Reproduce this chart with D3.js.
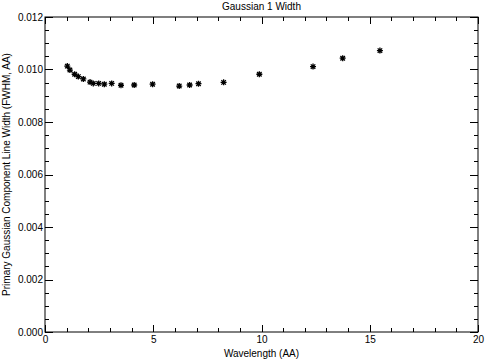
<!DOCTYPE html>
<html><head><meta charset="utf-8">
<script src="https://cdn.jsdelivr.net/npm/d3@7"></script>
<style>body{margin:0;background:#fff}svg{display:block}text{font-family:"Liberation Sans",Arial,sans-serif;font-size:10px;fill:#000}</style>
</head><body>
<script>
const title = "Gaussian 1 Width";
const xLabel = "Wavelength (AA)";
const yLabel = "Primary Gaussian Component Line Width (FWHM, AA)";
const wavelength = [1.03,1.15,1.37,1.54,1.77,2.08,2.23,2.48,2.74,3.08,3.51,4.12,4.97,6.20,6.68,7.09,8.25,9.90,12.38,13.75,15.47];
const width = [0.01013,0.00998,0.00982,0.00973,0.00964,0.00952,0.00947,0.00947,0.00944,0.00947,0.00940,0.00941,0.00944,0.00937,0.00941,0.00946,0.00951,0.00982,0.01011,0.01043,0.01072];
const xTicks = [0,5,10,15,20];
const yTicks = [0,0.002,0.004,0.006,0.008,0.010,0.012];

const W=486,H=360, L=45,R=478,T=17,B=332;
const svg=d3.select("body").append("svg").attr("width",W).attr("height",H);
const x=d3.scaleLinear().domain([0,20]).range([L,R]);
const y=d3.scaleLinear().domain([0,0.012]).range([B,T]);

const g=svg.append("g");
g.append("rect").attr("x",L).attr("y",T).attr("width",R-L).attr("height",B-T).attr("fill","none").attr("stroke","#000").attr("stroke-width",1);

const xMinor=d3.range(0,21,1), yMinor=d3.range(0,25).map(i=>i*0.0005);
function tick(x1,y1,x2,y2){g.append("line").attr("x1",x1).attr("y1",y1).attr("x2",x2).attr("y2",y2).attr("stroke","#000").attr("stroke-width",1);}
xMinor.forEach(v=>{const len=(v%5===0)?7:4; const px=Math.round(x(v))+0.5; tick(px,B,px,B-len); tick(px,T,px,T+len);});
yMinor.forEach((v,i)=>{const len=(i%4===0)?8:4; const py=Math.round(y(v))+0.5; tick(L,py,L+len,py); tick(R,py,R-len,py);});

const xa=svg.append("g").attr("transform",`translate(0,${B})`).call(d3.axisBottom(x).tickValues(xTicks).tickSize(0).tickPadding(4).tickFormat(d3.format("d")));
xa.select(".domain").remove();
xa.selectAll("text").style("font-family","Liberation Sans,Arial,sans-serif").style("font-size","10px");
const ya=svg.append("g").attr("transform",`translate(${L},0)`).call(d3.axisLeft(y).tickValues(yTicks).tickSize(0).tickPadding(2).tickFormat(d3.format(".3f")));
ya.select(".domain").remove();
ya.selectAll("text").style("font-family","Liberation Sans,Arial,sans-serif").style("font-size","10px");

svg.append("text").attr("x",(L+R)/2).attr("y",10).attr("text-anchor","middle").text(title);
svg.append("text").attr("x",(L+R)/2).attr("y",357).attr("text-anchor","middle").text(xLabel);
svg.append("text").attr("transform",`translate(10,${(T+B)/2}) rotate(-90)`).attr("text-anchor","middle").text(yLabel);

const s=3;
const star=`M${-s},0L${s},0M0,${-s}L0,${s}M${-s*0.75},${-s*0.75}L${s*0.75},${s*0.75}M${-s*0.75},${s*0.75}L${s*0.75},${-s*0.75}`;
svg.append("g").selectAll("path").data(wavelength.map((w,i)=>[w,width[i]])).join("path")
 .attr("transform",d=>`translate(${x(d[0])},${y(d[1])})`).attr("d",star).attr("stroke","#000").attr("stroke-width",1.3).attr("fill","none");
</script>
</body></html>
